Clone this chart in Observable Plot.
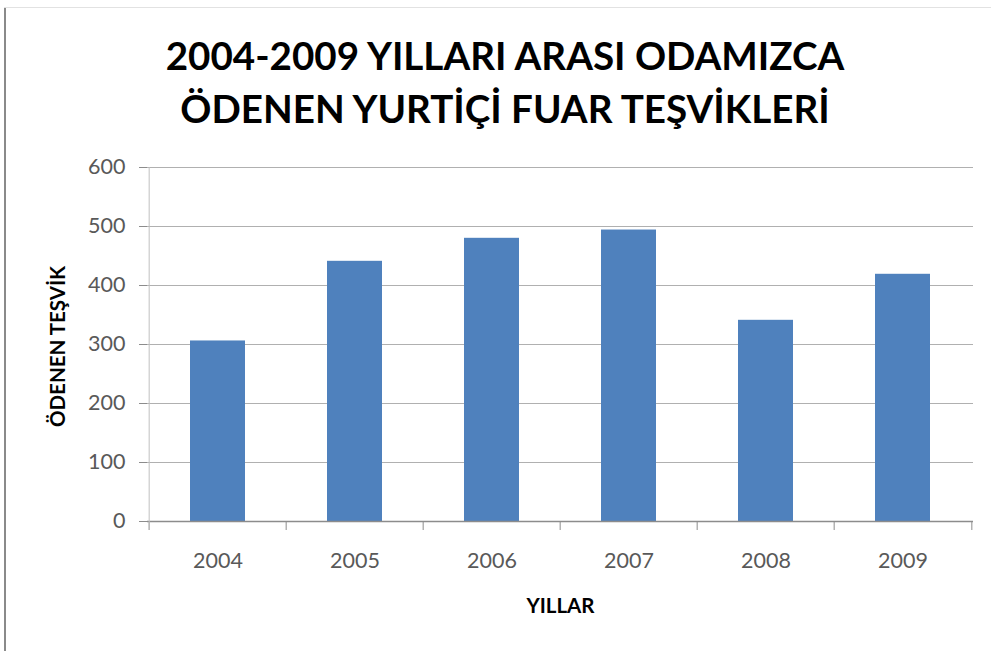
<!DOCTYPE html>
<html>
<head>
<meta charset="utf-8">
<script src="https://cdn.jsdelivr.net/npm/d3@7"></script>
<script src="https://cdn.jsdelivr.net/npm/@observablehq/plot@0.6"></script>
<style>
  html, body { margin: 0; padding: 0; background: #fff; }
  #wrap { position: relative; width: 991px; height: 651px; overflow: hidden; background: #fff; }
  #topline { position: absolute; left: 4px; top: 7px; width: 987px; height: 1px; background: #e2e2e2; }
  #leftline { position: absolute; left: 4px; top: 8px; width: 2px; height: 643px; background: #8a8a8a; }
  #title { position: absolute; left: 0; top: 29px; width: 1010px; text-align: center;
           font-family: Lato, "Open Sans", sans-serif; font-weight: bold; font-size: 38.6px;
           line-height: 53px; color: #000; }
  #chart { position: absolute; left: 0; top: 150px; }
</style>
</head>
<body>
<div id="wrap">
  <div id="topline"></div>
  <div id="leftline"></div>
  <div id="title"></div>
  <div id="chart"></div>
</div>
<script>
const titleLines = ["2004-2009 YILLARI ARASI ODAMIZCA", "ÖDENEN YURTİÇİ FUAR TEŞVİKLERİ"];
const years = ["2004", "2005", "2006", "2007", "2008", "2009"];
const values = [306, 441, 480, 494, 341, 419];
const yTicks = [0, 100, 200, 300, 400, 500, 600];
const xTitle = "YILLAR";
const yTitle = "ÖDENEN TEŞVİK";

document.getElementById("title").innerHTML = titleLines.join("<br>");

const data = years.map((y, i) => ({year: y, value: values[i]}));

const W = 991, H = 501, mL = 147, mR = 18, mT = 17, mB = 130;
const step = (W - mL - mR) / years.length;

const plot = Plot.plot({
  width: W,
  height: H,
  marginLeft: mL,
  marginRight: mR,
  marginTop: mT,
  marginBottom: mB,
  style: {fontFamily: "Lato, 'Open Sans', sans-serif", fontSize: "20px", color: "#595959", background: "transparent"},
  x: {domain: years, paddingInner: 0.6, paddingOuter: 0.3, label: null},
  y: {domain: [0, 600], label: null},
  marks: [
    Plot.gridY(yTicks, {stroke: "#b0b0b0", strokeOpacity: 1}),
    Plot.barY(data, {x: "year", y: "value", fill: "#4f81bd"}),
    Plot.ruleY([0], {stroke: "#8c8c8c", strokeWidth: 1.5}),
    Plot.ruleX(years, {x: d => d, y1: 0, y2: 0, dx: -step / 2, insetBottom: -9, stroke: "#8c8c8c"}),
    Plot.ruleX([years[years.length - 1]], {x: d => d, y1: 0, y2: 0, dx: step / 2, insetBottom: -9, stroke: "#8c8c8c"}),
    Plot.ruleX([years[0]], {x: d => d, y1: 600, y2: 0, dx: -step / 2, insetBottom: -9, stroke: "#c0c0c0"}),
    Plot.axisY(yTicks, {tickSize: 8, tickPadding: 14, stroke: "#8c8c8c", label: null, fontSize: 21.5}),
    Plot.axisX({tickSize: 0, tickPadding: 31, label: null, fontSize: 21.5}),
    Plot.text([xTitle], {frameAnchor: "bottom", dy: 91, text: d => d, fontWeight: "bold", fontSize: 20.5, fill: "#000"}),
    Plot.text([yTitle], {frameAnchor: "left", textAnchor: "middle", dx: -89, dy: 2, rotate: -90, text: d => d, fontWeight: "bold", fontSize: 20.5, fill: "#000"})
  ]
});
document.getElementById("chart").appendChild(plot);
</script>
</body>
</html>
